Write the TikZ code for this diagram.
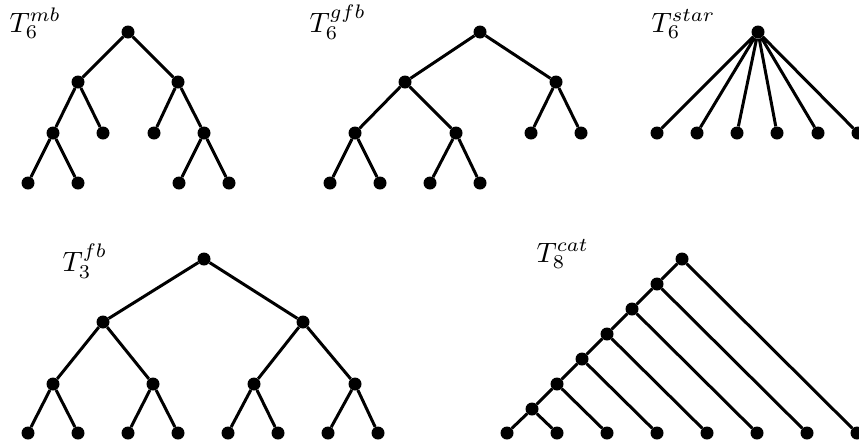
\documentclass[tikz,border=0pt]{standalone}
\begin{document}
\begin{tikzpicture}[x=1pt,y=-1pt,
  vtx/.style={circle,fill=black,inner sep=0pt,minimum size=13pt},
  edge/.style={line width=3pt,black},
  lbl/.style={anchor=base west,inner sep=0pt,scale=2.8}]
\useasboundingbox (0,0) rectangle (859,445);
% ---- T6^mb
\node[lbl] (Lmb) at (9,32) {$T_6^{mb}$};
\node[vtx] (a0) at (128,32) {};
\node[vtx] (a1) at (78,82) {};
\node[vtx] (a2) at (178,82) {};
\node[vtx] (a3) at (53,133) {};
\node[vtx] (a4) at (103,133) {};
\node[vtx] (a5) at (154,133) {};
\node[vtx] (a6) at (204,133) {};
\node[vtx] (a7) at (28,183) {};
\node[vtx] (a8) at (78,183) {};
\node[vtx] (a9) at (179,183) {};
\node[vtx] (a10) at (229,183) {};
\draw[edge] (a0)--(a1) (a0)--(a2) (a1)--(a3) (a1)--(a4) (a2)--(a5) (a2)--(a6)
  (a3)--(a7) (a3)--(a8) (a6)--(a9) (a6)--(a10);
% ---- T6^gfb
\node[lbl] (Lgfb) at (309,32) {$T_6^{gfb}$};
\node[vtx] (b0) at (480,32) {};
\node[vtx] (b1) at (405,82) {};
\node[vtx] (b2) at (556,82) {};
\node[vtx] (b3) at (355,133) {};
\node[vtx] (b4) at (456,133) {};
\node[vtx] (b5) at (531,133) {};
\node[vtx] (b6) at (581,133) {};
\node[vtx] (b7) at (330,183) {};
\node[vtx] (b8) at (380,183) {};
\node[vtx] (b9) at (430,183) {};
\node[vtx] (b10) at (480,183) {};
\draw[edge] (b0)--(b1) (b0)--(b2) (b1)--(b3) (b1)--(b4) (b2)--(b5) (b2)--(b6)
  (b3)--(b7) (b3)--(b8) (b4)--(b9) (b4)--(b10);
% ---- T6^star
\node[lbl] (Lstar) at (651,32) {$T_6^{star}$};
\node[vtx] (c0) at (758,32) {};
\node[vtx] (c1) at (657,133) {};
\node[vtx] (c2) at (697,133) {};
\node[vtx] (c3) at (737,133) {};
\node[vtx] (c4) at (777,133) {};
\node[vtx] (c5) at (818,133) {};
\node[vtx] (c6) at (858,133) {};
\draw[edge] (c0)--(c1) (c0)--(c2) (c0)--(c3) (c0)--(c4) (c0)--(c5) (c0)--(c6);
% ---- T3^fb
\node[lbl] (Lfb) at (62,271) {$T_3^{fb}$};
\node[vtx] (d0) at (204,259) {};
\node[vtx] (d1) at (103,322) {};
\node[vtx] (d2) at (303,322) {};
\node[vtx] (d3) at (53,384) {};
\node[vtx] (d4) at (153,384) {};
\node[vtx] (d5) at (254,384) {};
\node[vtx] (d6) at (355,384) {};
\node[vtx] (d7) at (28,433) {};
\node[vtx] (d8) at (78,433) {};
\node[vtx] (d9) at (128,433) {};
\node[vtx] (d10) at (178,433) {};
\node[vtx] (d11) at (228,433) {};
\node[vtx] (d12) at (278,433) {};
\node[vtx] (d13) at (328,433) {};
\node[vtx] (d14) at (378,433) {};
\draw[edge] (d0)--(d1) (d0)--(d2) (d1)--(d3) (d1)--(d4) (d2)--(d5) (d2)--(d6)
  (d3)--(d7) (d3)--(d8) (d4)--(d9) (d4)--(d10) (d5)--(d11) (d5)--(d12)
  (d6)--(d13) (d6)--(d14);
% ---- T8^cat
\node[lbl] (Lcat) at (536,262) {$T_8^{cat}$};
\node[vtx] (e6) at (682,259) {};
\node[vtx] (e5) at (657,284) {};
\node[vtx] (e4) at (632,309) {};
\node[vtx] (e3) at (607,334) {};
\node[vtx] (e2) at (582,359) {};
\node[vtx] (e1) at (557,384) {};
\node[vtx] (e0) at (532,409) {};
\node[vtx] (f0) at (507,433) {};
\node[vtx] (f1) at (557,433) {};
\node[vtx] (f2) at (607,433) {};
\node[vtx] (f3) at (657,433) {};
\node[vtx] (f4) at (707,433) {};
\node[vtx] (f5) at (757,433) {};
\node[vtx] (f6) at (807,433) {};
\node[vtx] (f7) at (857,433) {};
\draw[edge] (e6)--(e5) (e5)--(e4) (e4)--(e3) (e3)--(e2) (e2)--(e1) (e1)--(e0)
  (e0)--(f0) (e0)--(f1) (e1)--(f2) (e2)--(f3) (e3)--(f4) (e4)--(f5)
  (e5)--(f6) (e6)--(f7);
\end{tikzpicture}
\end{document}
